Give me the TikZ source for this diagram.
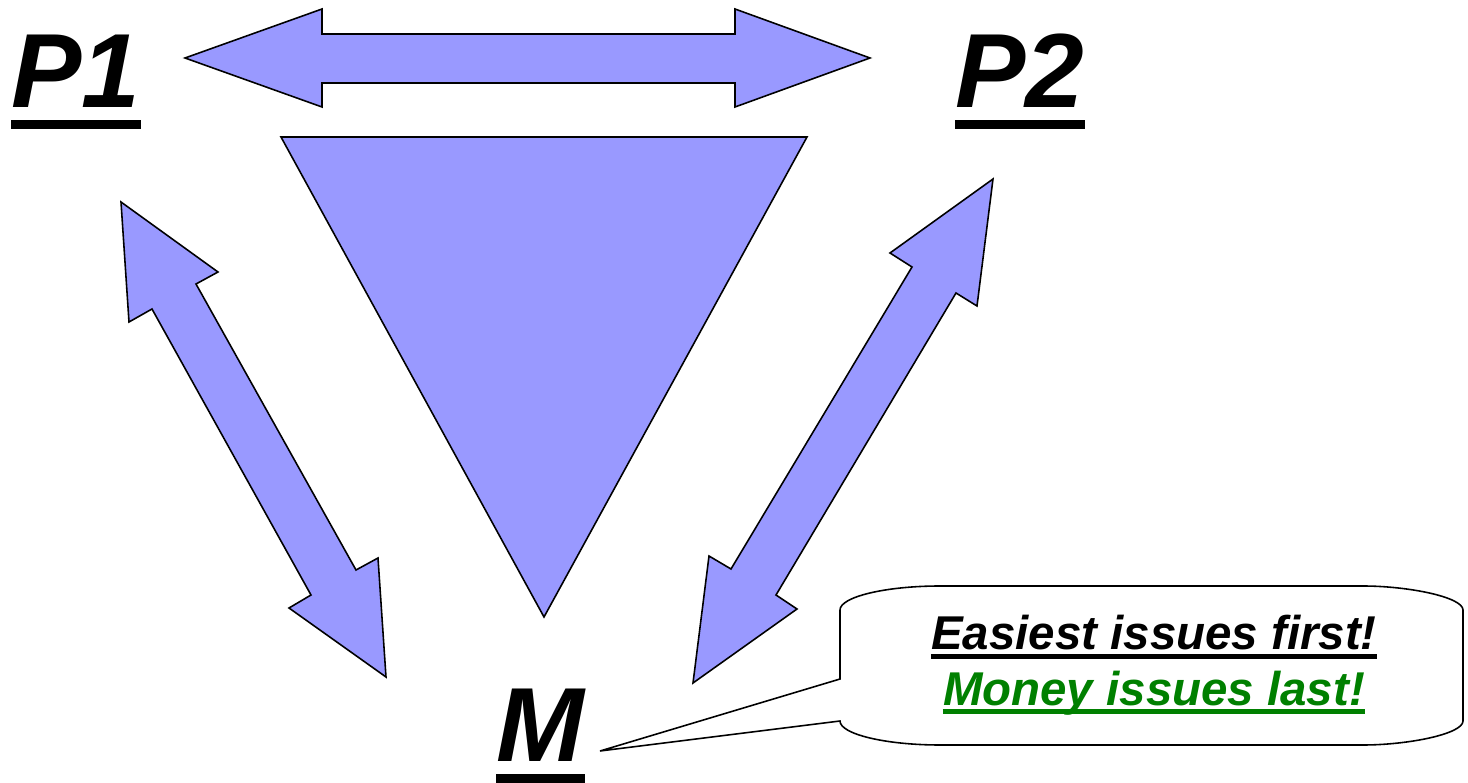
\documentclass[tikz,border=0pt]{standalone}
\usepackage{fontspec}
\setmainfont{Liberation Sans}
\usepackage{tikz}
\usetikzlibrary{positioning}

\definecolor{arrowblue}{RGB}{153,153,255}
\definecolor{notegreen}{RGB}{0,128,0}

\begin{document}
\begin{tikzpicture}[
      x=0.02cm, y=-0.02cm,
      blockshape/.style={draw=black, fill=arrowblue, line width=0.9pt, line join=miter},
      calloutshape/.style={draw=black, fill=white, line width=0.9pt},
      biglabel/.style={font=\fontsize{60}{60}\selectfont\bfseries\itshape, inner sep=0pt},
      notetext/.style={font=\fontsize{27}{31}\selectfont\bfseries\itshape, inner sep=0pt},
      bigline/.style={line width=5pt},
      noteline/.style={line width=2.8pt}
    ]
      \useasboundingbox (0,0) rectangle (1468,783);

      % parties and mediator
      \node[biglabel, anchor=base west] (p1) at (11,108) {P1};
      \node[biglabel, anchor=base west] (p2) at (955,108) {P2};
      \node[biglabel, anchor=base west] (m) at (496,762) {M};
      \foreach \who/\drop in {p1/9.4pt, p2/9.4pt, m/9.6pt}
        \draw[bigline] ([yshift=-\drop]\who.base west) -- ([yshift=-\drop]\who.base east);

      % block arrows between the parties
      \draw[blockshape] (185,58) -- (322,9) -- (322,34) -- (735,34) -- (735,9) -- (870,58)
        -- (735,107) -- (735,83) -- (322,83) -- (322,107) -- cycle;
      \draw[blockshape] (121,202) -- (218,272) -- (196,284) -- (356,570) -- (378,558) -- (386,677)
        -- (289,608) -- (311,595) -- (152,309) -- (129,322) -- cycle;
      \draw[blockshape] (993,179) -- (977,306) -- (956,293) -- (776,595) -- (797,609) -- (693,683)
        -- (709,556) -- (731,569) -- (912,267) -- (890,253) -- cycle;

      % funnel
      \draw[blockshape] (281,137) -- (807,137) -- (544,617) -- cycle;

      % callout from the mediator
      \coordinate (tip) at (600,751);
      \draw[calloutshape] (tip) -- (840,721) .. controls (840,734) and (885,745) .. (940,745)
        -- (1363,745) .. controls (1408,745) and (1463,734) .. (1463,721)
        -- (1463,610) .. controls (1463,597) and (1408,586) .. (1363,586)
        -- (940,586) .. controls (885,586) and (840,597) .. (840,610)
        -- (840,679) -- cycle;

      \node[notetext, anchor=base] (easy) at (1154,650) {Easiest issues first!};
      \node[notetext, anchor=base, text=notegreen] (money) at (1154,705) {Money issues last!};
      \draw[noteline] ([yshift=-3.7pt]easy.base west) -- ([yshift=-3.7pt]easy.base east);
      \draw[noteline, notegreen] ([yshift=-3.7pt]money.base west) -- ([yshift=-3.7pt]money.base east);

    \end{tikzpicture}
\end{document}
